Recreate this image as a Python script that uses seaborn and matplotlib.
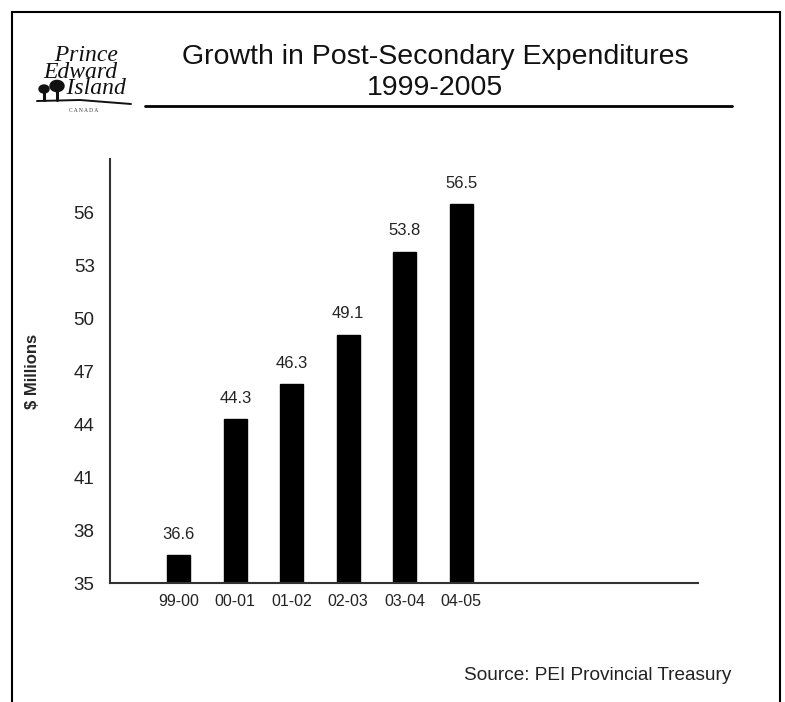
import matplotlib
matplotlib.use("Agg")
import matplotlib.pyplot as plt
import seaborn as sns
import pandas as pd
from matplotlib.patches import Rectangle, Ellipse
from matplotlib.lines import Line2D

years = ["99-00", "00-01", "01-02", "02-03", "03-04", "04-05"]
values = [36.6, 44.3, 46.3, 49.1, 53.8, 56.5]
yticks = [35, 38, 41, 44, 47, 50, 53, 56]

sns.set_theme(style="white")
plt.rcParams['font.family'] = ['Liberation Sans', 'DejaVu Sans']

df = pd.DataFrame({"year": years, "value": values})

W, H = 785, 702
fig = plt.figure(figsize=(7.85, 7.02), dpi=100)
ax = fig.add_axes([0.140, 0.1695, 0.749, 0.604])

sns.barplot(data=df, x="year", y="value", color="black", width=0.41,
            saturation=1, ax=ax, edgecolor="black")

ax.set_ylim(35, 59.06)
ax.set_xlim(-1.22, 9.19)
ax.set_yticks(yticks)
ax.set_yticklabels([str(t) for t in yticks], fontsize=13.5, color="#222222")
ax.tick_params(axis='x', labelsize=11.5, colors="#222222", length=0, pad=8)
ax.tick_params(axis='y', length=0, pad=11)
ax.set_xlabel("")
ax.set_ylabel("$ Millions", fontsize=12, fontweight="bold", labelpad=24)
for s in ["top", "right"]:
    ax.spines[s].set_visible(False)
for s in ["left", "bottom"]:
    ax.spines[s].set_color("#333333")
    ax.spines[s].set_linewidth(1.5)

for i, v in enumerate(values):
    ax.text(i, v + 0.75, f"{v:.1f}", ha="center", va="bottom", fontsize=12, color="#222222")

def fx(x):
    return x / W

def fy(y):
    return 1 - y / H

# Border
fig.patches.append(Rectangle((fx(12), -0.05), (780 - 12) / W, 1.05 - 12 / H,
                             transform=fig.transFigure, fill=False,
                             edgecolor="black", linewidth=1.5))

# Title
fig.text(fx(435), fy(57), "Growth in Post-Secondary Expenditures",
         ha="center", va="center", fontsize=20.5, color="#111111")
fig.text(fx(435), fy(88), "1999-2005",
         ha="center", va="center", fontsize=20.5, color="#111111")
fig.lines.append(Line2D([fx(145), fx(732)], [fy(106), fy(106)],
                        transform=fig.transFigure, color="black", linewidth=2))

# Logo
logo_font = ['Liberation Serif', 'DejaVu Serif']
fig.text(fx(43), fy(72), "  Prince\nEdward\n    Island", ha="left", va="center",
         fontsize=17, style="italic", family=logo_font, color="#111111",
         linespacing=0.74)
fig.text(fx(84), fy(111), "C A N A D A", ha="center", va="center", fontsize=4,
         family=logo_font, color="#333333")
# simple trees and swoosh
for cx, cy, r in [(44, 89, 5), (57, 86, 7)]:
    fig.patches.append(Ellipse((fx(cx), fy(cy)), 2 * r / W, 1.6 * r / H,
                               transform=fig.transFigure, color="#111111"))
    fig.lines.append(Line2D([fx(cx), fx(cx)], [fy(cy), fy(100)],
                            transform=fig.transFigure, color="#111111", linewidth=2.2))
fig.lines.append(Line2D([fx(37), fx(80), fx(131)], [fy(101), fy(100), fy(104)],
                        transform=fig.transFigure, color="#111111", linewidth=1.4))

# Source
fig.text(fx(731), fy(675), "Source: PEI Provincial Treasury",
         ha="right", va="center", fontsize=13.7, color="#222222")

fig.savefig("out.png", dpi=100)
